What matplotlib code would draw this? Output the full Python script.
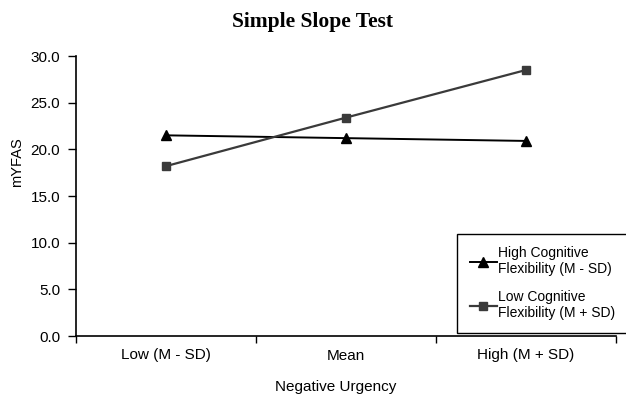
import matplotlib
matplotlib.use("Agg")
import matplotlib.pyplot as plt
from matplotlib.ticker import FixedLocator

categories = ["Low (M - SD)", "Mean", "High (M + SD)"]
high_flex = [21.5, 21.2, 20.9]
low_flex = [18.2, 23.4, 28.5]
series_labels = ["High Cognitive\nFlexibility (M - SD)", "Low Cognitive\nFlexibility (M + SD)"]
yticks = [0, 5, 10, 15, 20, 25, 30]

W, H = 626, 399
fig = plt.figure(figsize=(W / 100, H / 100), dpi=100)
ax = fig.add_axes([76 / W, (H - 336) / H, 540 / W, 280 / H])

x = list(range(len(categories)))
ax.plot(x, high_flex, color="black", lw=1.4, marker="^", ms=6.5, label=series_labels[0])
ax.plot(x, low_flex, color="#3a3a3a", lw=1.6, marker="s", ms=5.5, label=series_labels[1])

ax.set_xlim(-0.5, len(categories) - 0.5)
ax.set_ylim(0, 30)
ax.set_yticks(yticks)
ax.set_yticklabels([f"{v:.1f}" for v in yticks], fontsize=11, family="Liberation Sans")
ax.set_xticks(x)
ax.set_xticklabels(categories, fontsize=11, family="Liberation Sans")
ax.tick_params(axis="x", which="major", length=0, pad=9)
ax.xaxis.set_minor_locator(FixedLocator([-0.5, 0.5, 1.5, 2.5]))
ax.tick_params(axis="x", which="minor", length=5, width=1, direction="out")
ax.tick_params(axis="y", length=5.5, width=1, direction="out", pad=6)

for s in ["top", "right"]:
    ax.spines[s].set_visible(False)
for s in ["left", "bottom"]:
    ax.spines[s].set_linewidth(1.2)
    ax.spines[s].set_color("black")

fig.text(17.5 / W, 1 - 162 / H, "mYFAS", rotation=90, ha="center", va="center",
         fontsize=10.5, family="Liberation Sans")
fig.text(336 / W, 1 - 387 / H, "Negative Urgency", ha="center", va="center",
         fontsize=11, family="Liberation Sans")
fig.text(312 / W, 1 - 22 / H, "Simple Slope Test", ha="center", va="center",
         fontsize=15.5, fontweight="bold", family="Liberation Serif")

leg = ax.legend(loc="lower left", bbox_to_anchor=(457 / W, (H - 333) / H),
                bbox_transform=fig.transFigure, prop={"family": "Liberation Sans", "size": 10},
                frameon=True, fancybox=False, edgecolor="black", framealpha=1,
                handlelength=2.0, handletextpad=0.05, labelspacing=1.0, borderpad=0.9,
                borderaxespad=0)
leg.get_frame().set_linewidth(1.0)

fig.savefig("out.png", dpi=100)
